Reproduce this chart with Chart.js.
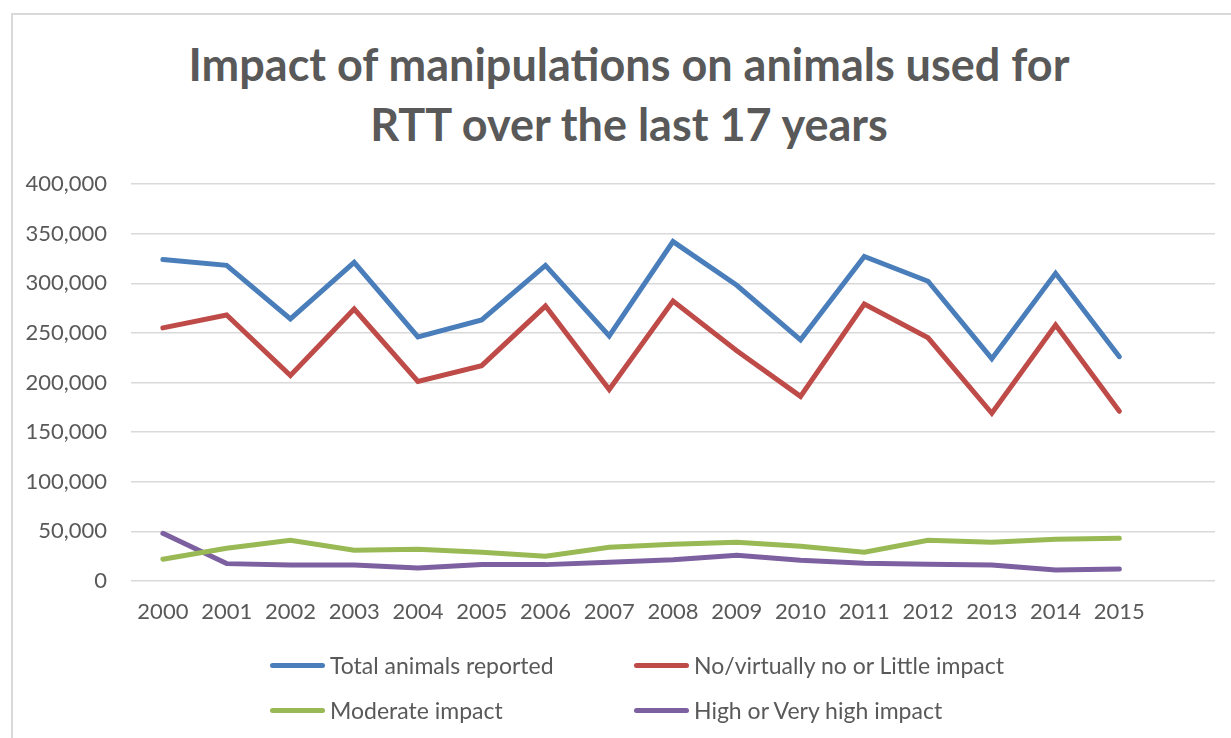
<!DOCTYPE html>
<html lang="en">
<head>
    <meta charset="UTF-8">
    <title>Impact of manipulations on animals used for RTT</title>
    <script src="https://cdn.jsdelivr.net/npm/chart.js"></script>
    <style>
        body {
            margin: 0;
            background: #fff;
            font-family: Lato, sans-serif;
            overflow: hidden;
        }
        .frame {
            position: absolute;
            left: 11px;
            top: 13px;
            width: 1300px;
            height: 800px;
            border: 2px solid #d9d9d9;
        }
        #chart {
            position: absolute;
            left: 0;
            top: 0;
        }
        .chart-title {
            position: absolute;
            left: 0;
            top: 34px;
            width: 1258px;
            text-align: center;
            font-size: 45px;
            font-weight: bold;
            line-height: 60px;
            color: #595959;
        }
        .legend-item {
            position: absolute;
            height: 30px;
            display: flex;
            align-items: center;
            font-size: 23px;
            color: #595959;
            white-space: nowrap;
        }
        .legend-item .swatch {
            width: 55px;
            height: 5px;
            border-radius: 3px;
            margin-right: 5px;
        }
    </style>
</head>
<body>
    <div class="frame"></div>
    <div class="chart-title">Impact of manipulations on animals used for<br>RTT over the last 17 years</div>
    <canvas id="chart" width="1231" height="738"></canvas>
    <div id="legend"></div>

    <script>
        // 17 slots on the axis, the last one has no data
        const years = ['2000', '2001', '2002', '2003', '2004', '2005', '2006', '2007',
                       '2008', '2009', '2010', '2011', '2012', '2013', '2014', '2015', ''];

        const totalAnimals = [324000, 318000, 264000, 321000, 246000, 263000, 318000, 247000,
                              342000, 298000, 243000, 327000, 302000, 224000, 310000, 226000];
        const littleImpact = [255000, 268000, 207000, 274000, 201000, 217000, 277000, 193000,
                              282000, 232000, 186000, 279000, 245000, 169000, 258000, 171000];
        const moderateImpact = [22000, 33000, 41000, 31000, 32000, 29000, 25000, 34000,
                                37000, 39000, 35000, 29000, 41000, 39000, 42000, 43000];
        const highImpact = [48000, 17500, 16000, 16000, 13000, 16500, 16500, 19000,
                            21500, 26000, 21000, 18000, 17000, 16000, 11000, 12000];

        const seriesNames = ['Total animals reported', 'No/virtually no or Little impact',
                             'Moderate impact', 'High or Very high impact'];
        const seriesColors = ['#4A7EBB', '#BE4B48', '#98B954', '#7D60A0'];
        const seriesData = [totalAnimals, littleImpact, moderateImpact, highImpact];

        const textColor = '#595959';
        const gridColor = '#d9d9d9';

        const datasets = seriesData.map((data, i) => ({
            label: seriesNames[i],
            data: data,
            borderColor: seriesColors[i],
            backgroundColor: seriesColors[i],
            borderWidth: 5,
            borderCapStyle: 'round',
            borderJoinStyle: 'miter',
            pointRadius: 0,
            tension: 0,
            fill: false
        }));

        const ctx = document.getElementById('chart').getContext('2d');
        const chart = new Chart(ctx, {
            type: 'line',
            data: {
                labels: years,
                datasets: datasets
            },
            options: {
                responsive: false,
                animation: false,
                layout: {
                    padding: { left: 12, right: 16, top: 184, bottom: 0 }
                },
                plugins: {
                    legend: { display: false },
                    tooltip: { enabled: false },
                    title: { display: false }
                },
                scales: {
                    x: {
                        offset: true,
                        grid: { display: false },
                        border: { display: false },
                        ticks: {
                            color: textColor,
                            font: { family: 'Lato', size: 22 },
                            padding: 10,
                            maxRotation: 0,
                            autoSkip: false
                        },
                        afterFit: (scale) => { scale.height = 157; }
                    },
                    y: {
                        min: 0,
                        max: 400000,
                        grid: {
                            color: gridColor,
                            lineWidth: 1.5,
                            drawTicks: false
                        },
                        border: { display: false },
                        ticks: {
                            stepSize: 50000,
                            color: textColor,
                            font: { family: 'Lato', size: 22 },
                            padding: 24,
                            callback: (value) => value.toLocaleString('en-US')
                        },
                        afterFit: (scale) => { scale.width = 119; }
                    }
                }
            }
        });

        // legend laid out as a 2 x 2 grid, built from the datasets
        const legendPos = [[270, 665], [634, 665], [270, 710], [634, 710]];
        const legendBox = document.getElementById('legend');
        chart.data.datasets.forEach((ds, i) => {
            const item = document.createElement('div');
            item.className = 'legend-item';
            item.style.left = legendPos[i][0] + 'px';
            item.style.top = (legendPos[i][1] - 15) + 'px';
            const sw = document.createElement('span');
            sw.className = 'swatch';
            sw.style.background = ds.borderColor;
            item.appendChild(sw);
            item.appendChild(document.createTextNode(ds.label));
            legendBox.appendChild(item);
        });
    </script>
</body>
</html>
